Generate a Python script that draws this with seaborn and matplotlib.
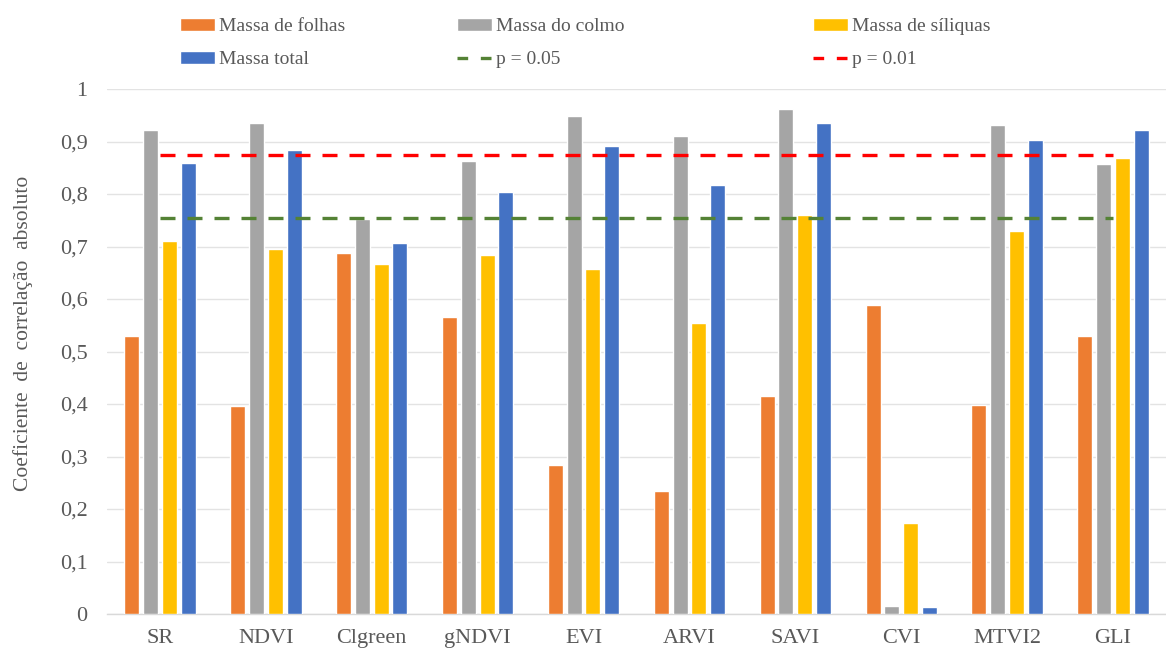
import numpy as np
import pandas as pd
import matplotlib
matplotlib.use("Agg")
import matplotlib.pyplot as plt
import seaborn as sns
from matplotlib.patches import Patch
from matplotlib.lines import Line2D

categories = ["SR", "NDVI", "Clgreen", "gNDVI", "EVI", "ARVI", "SAVI", "CVI", "MTVI2", "GLI"]
massa_folhas = [0.529, 0.397, 0.688, 0.565, 0.283, 0.234, 0.416, 0.588, 0.399, 0.529]
massa_colmo = [0.922, 0.935, 0.753, 0.863, 0.949, 0.911, 0.961, 0.015, 0.931, 0.857]
massa_siliquas = [0.710, 0.695, 0.667, 0.684, 0.658, 0.555, 0.760, 0.173, 0.730, 0.868]
massa_total = [0.860, 0.883, 0.707, 0.804, 0.891, 0.817, 0.935, 0.014, 0.902, 0.921]
p05 = 0.754
p01 = 0.875
series_names = ["Massa de folhas", "Massa do colmo", "Massa de síliquas", "Massa total"]
y_ticks = [0, 0.1, 0.2, 0.3, 0.4, 0.5, 0.6, 0.7, 0.8, 0.9, 1]

colors = ["#ED7D31", "#A5A5A5", "#FFC000", "#4472C4"]
green = "#548235"
red = "#FF0000"
txt = "#595959"

rows = []
for name, vals in zip(series_names, [massa_folhas, massa_colmo, massa_siliquas, massa_total]):
    for c, v in zip(categories, vals):
        rows.append({"Índice": c, "Série": name, "Valor": v})
df = pd.DataFrame(rows)

sns.set_theme(style="white")
plt.rcParams["font.family"] = ["Liberation Serif", "DejaVu Serif"]

fig = plt.figure(figsize=(11.66, 6.5), dpi=100)
ax = fig.add_axes([107/1166, 1 - 614/650, 1 - 107/1166, (614 - 89)/650])

sns.barplot(data=df, x="Índice", y="Valor", hue="Série", order=categories,
            hue_order=series_names, palette=colors, width=0.71, gap=0.2,
            saturation=1, ax=ax, legend=False, zorder=3)

xpos = np.arange(len(categories))
sns.lineplot(x=xpos, y=[p05] * len(categories), ax=ax, color=green, lw=2.4,
             dashes=False, zorder=4).lines[-1].set_dashes((4.5, 3.6))
sns.lineplot(x=xpos, y=[p01] * len(categories), ax=ax, color=red, lw=2.4,
             dashes=False, zorder=4).lines[-1].set_dashes((4.5, 3.6))

ax.set_xlim(-0.5, len(categories) - 0.5)
ax.set_ylim(0, 1)
ax.set_yticks(y_ticks)
ax.set_yticklabels([("%g" % t).replace(".", ",") for t in y_ticks])
ax.yaxis.grid(True, color="#E3E3E3", lw=1.0, zorder=0)
ax.xaxis.grid(False)
for s in ["top", "right", "left"]:
    ax.spines[s].set_visible(False)
ax.spines["bottom"].set_color("#D9D9D9")
ax.spines["bottom"].set_linewidth(1.0)
ax.tick_params(axis="both", length=0, labelsize=16, colors=txt)
ax.tick_params(axis="y", pad=14)
ax.tick_params(axis="x", pad=10.5)
ax.set_xlabel("")
ax.set_ylabel("Coeficiente  de  correlação  absoluto", fontsize=15.5, color=txt)
ax.yaxis.set_label_coords(-0.07, 0.535)
ax.set_axisbelow(True)

handles_cols = [
    [Patch(facecolor=colors[0], label=series_names[0]), Patch(facecolor=colors[3], label=series_names[3])],
    [Patch(facecolor=colors[1], label=series_names[1]),
     Line2D([0], [0], color=green, lw=2.4, dashes=(3.2, 3.8), label="p = 0.05")],
    [Patch(facecolor=colors[2], label=series_names[2]),
     Line2D([0], [0], color=red, lw=2.4, dashes=(3.2, 3.8), label="p = 0.01")],
]
xs = [180/1166, 457/1166, 813/1166]
for hs, x in zip(handles_cols, xs):
    leg = fig.legend(handles=hs, loc="upper left", bbox_to_anchor=(x, 0.972), frameon=False,
                     borderpad=0, borderaxespad=0, handlelength=1.8, handleheight=0.6,
                     handletextpad=0.2, labelspacing=0.82, fontsize=14)
    for t in leg.get_texts():
        t.set_color(txt)

fig.savefig("out.png", dpi=100)
